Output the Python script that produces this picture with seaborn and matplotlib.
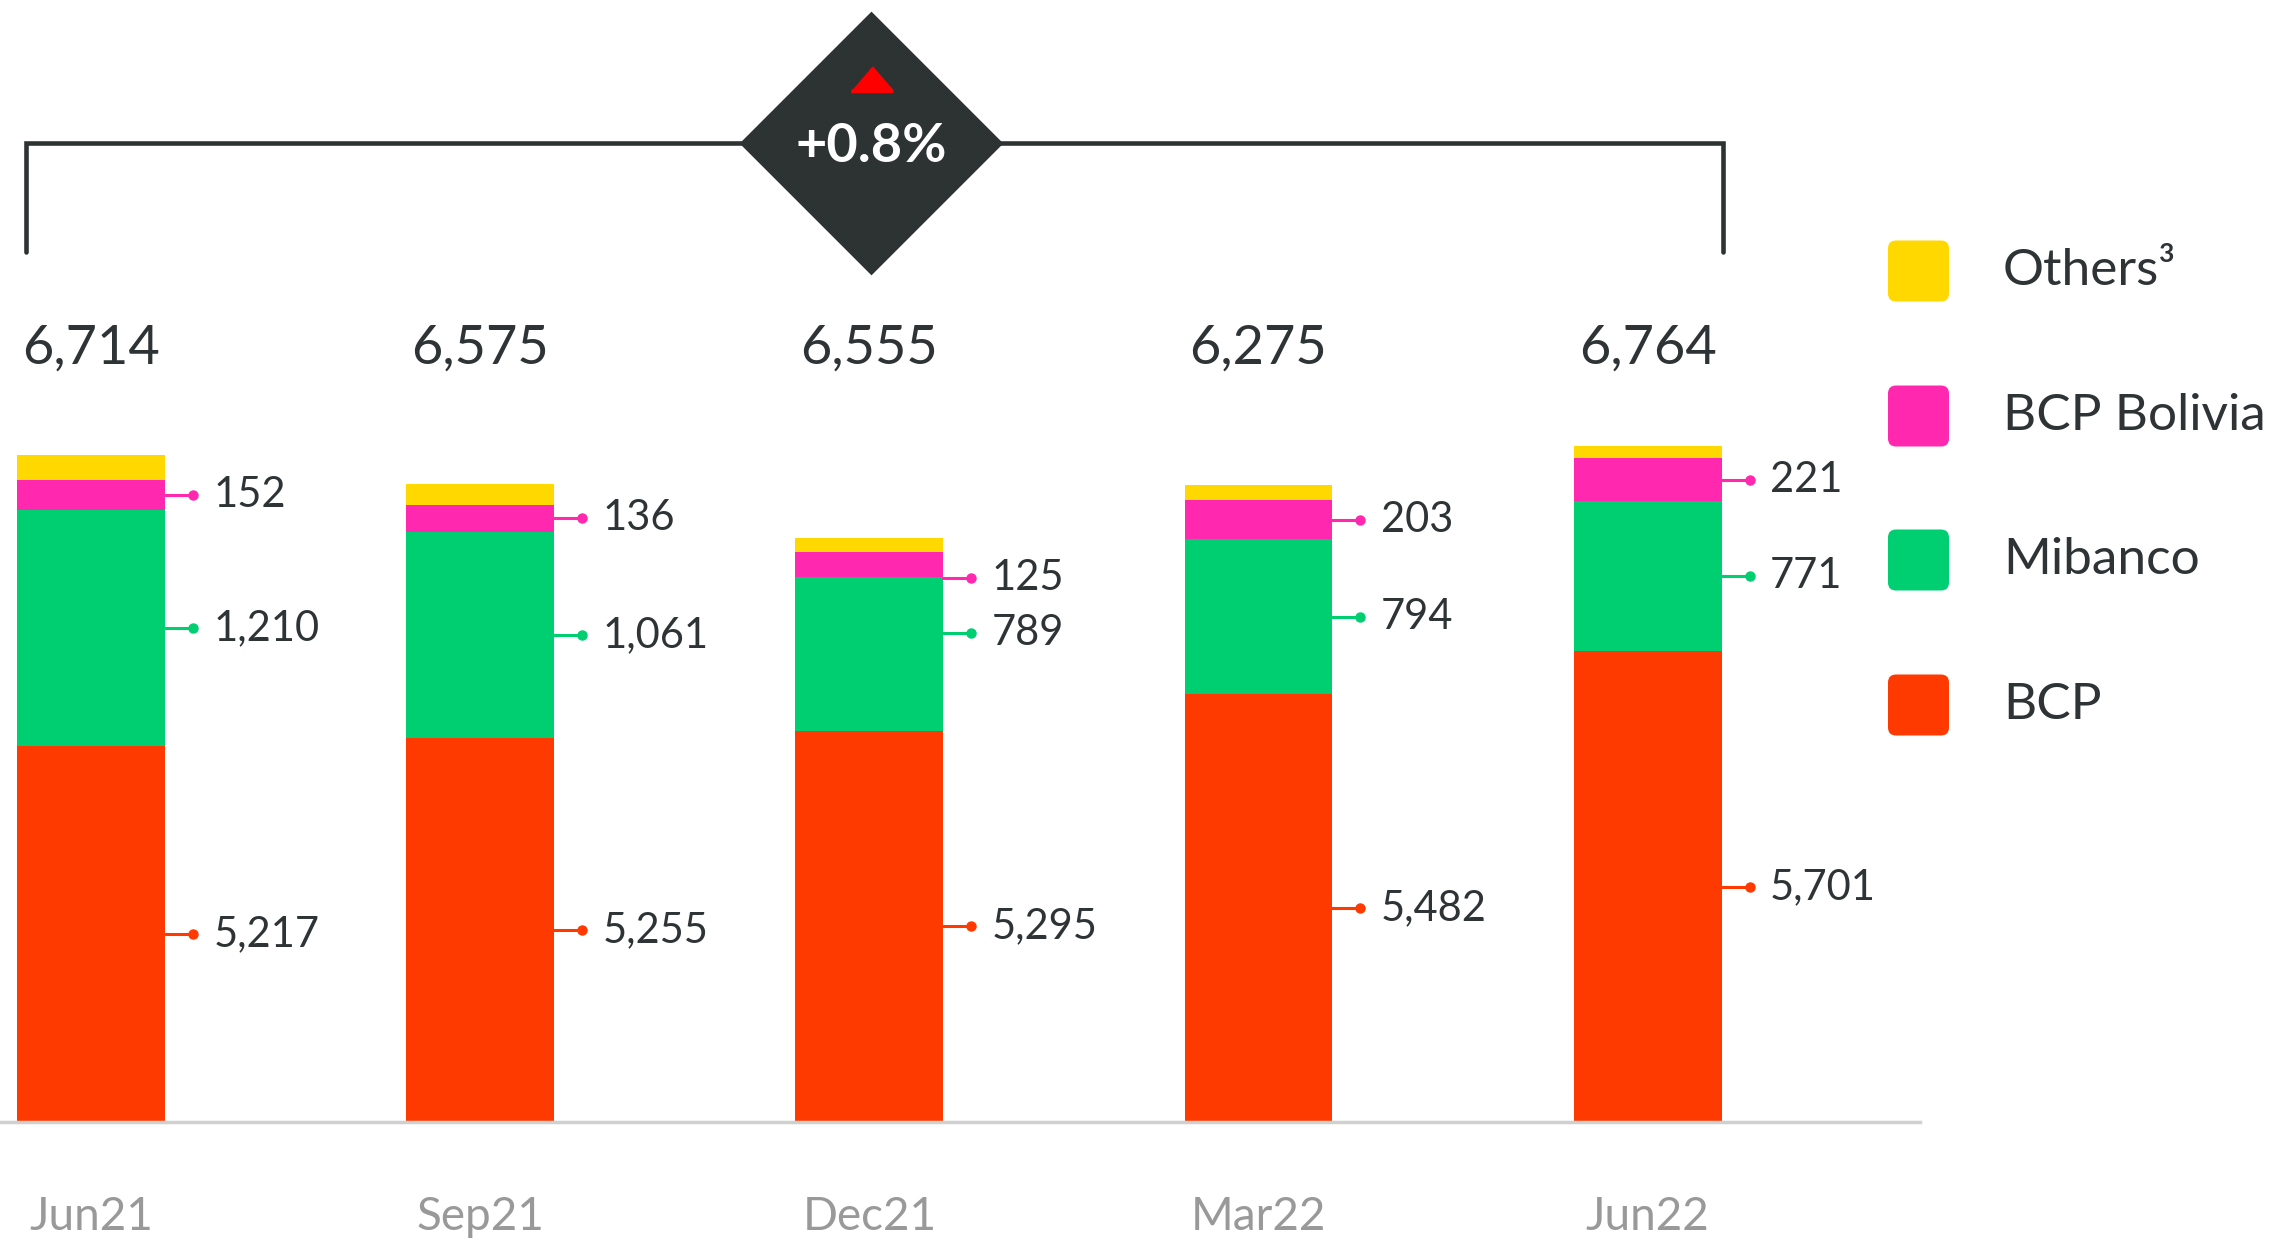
import numpy as np
import pandas as pd
import seaborn as sns
import matplotlib.pyplot as plt
from matplotlib.patches import FancyBboxPatch
from matplotlib.transforms import IdentityTransform, blended_transform_factory

sns.set_style("white")
plt.rcParams['font.family'] = ['Lato', 'DejaVu Sans']

#### DATA
periods = ["Jun21", "Sep21", "Dec21", "Mar22", "Jun22"]
bcp = [5217, 5255, 5295, 5482, 5701]
mibanco = [1210, 1061, 789, 794, 771]
bolivia = [152, 136, 125, 203, 221]
others = [128, 108, 72, 77, 62]   # read off bar heights, not labelled
totals = [6714, 6575, 6555, 6275, 6764]
change_label = "+0.8%"

series_names = ["BCP", "Mibanco", "BCP Bolivia", "Others³"]
colors = ["#FF3A00", "#00CF71", "#FF28AF", "#FFD800"]
dark = "#2E3436"

df = pd.DataFrame({"period": periods, "BCP": bcp, "Mibanco": mibanco,
                   "BCP Bolivia": bolivia, "Others³": others})
cum = df[series_names].cumsum(axis=1)

fig = plt.figure(figsize=(22.71, 12.42), dpi=100)
ax = fig.add_axes([0, 120 / 1242, 1920 / 2271, 1122 / 1242])

bar_w = 0.38
y_low = 3288
# stacked bars: draw the cumulative totals back to front
for name, col in reversed(list(zip(series_names, colors))):
    sns.barplot(x=df["period"], y=cum[name], color=col, saturation=1,
                width=bar_w, linewidth=0, ax=ax, zorder=2)

ax.set_xlim(-0.234, 4.70)
ax.set_ylim(y_low, y_low + 1122 / 0.195)
ax.set_yticks([])
ax.set_xlabel("")
ax.set_ylabel("")
for s in ["top", "right", "left"]:
    ax.spines[s].set_visible(False)
ax.spines["bottom"].set_color("#D0D0D0")
ax.spines["bottom"].set_linewidth(2.5)
ax.tick_params(axis="x", length=0, pad=53, labelsize=33, labelcolor="#999999")

# small manual shifts where the labels were moved in the original
nudge = {(2, "BCP Bolivia"): -67, (2, "Mibanco"): 108}

# segment labels with leader lines
for i in range(len(periods)):
    for name, col in zip(series_names[:3], colors[:3]):
        top = cum[name][i]
        bottom = max(top - df[name][i], y_low)
        y = (top + bottom) / 2 + nudge.get((i, name), 0)
        x0 = i + bar_w / 2
        ax.plot([x0, i + 0.262], [y, y], color=col, lw=2.2, zorder=3,
                clip_on=False)
        ax.plot(i + 0.262, y, "o", color=col, ms=6.5, zorder=3, clip_on=False)
        ax.text(i + 0.314, y, f"{df[name][i]:,}", fontsize=30, color=dark,
                va="center", ha="left")

# totals above bars
tr = blended_transform_factory(ax.transData, ax.transAxes)
for i, t in enumerate(totals):
    ax.text(i, 0.690, f"{t:,}", transform=tr, fontsize=39, color=dark,
            ha="center", va="center")

# bracket + diamond badge
ax.plot([-0.167, -0.167, 4.193, 4.193], [0.775, 0.8725, 0.8725, 0.775],
        transform=tr, color="#2D3233", lw=3.3, clip_on=False,
        solid_joinstyle="miter", zorder=4)
ax.plot(2.005, 0.8725, marker="D", ms=126, color="#2D3233", mec="#2D3233",
        mew=8, transform=tr, clip_on=False, zorder=5,
        solid_joinstyle="round")
ax.plot(2.005, 0.930, marker=[(-1, -0.58), (1, -0.58), (0, 0.58)], ms=29,
        color="#FF0000", mec="#FF0000", mew=3, transform=tr, clip_on=False,
        zorder=6)
ax.text(2.005, 0.869, change_label, transform=tr, color="white",
        fontsize=39, fontweight="bold", ha="center", va="center", zorder=7)

# legend drawn by hand
leg_y = [971, 826, 682, 537]
for name, col, yc in zip(reversed(series_names), reversed(colors), leg_y):
    fig.add_artist(FancyBboxPatch((1888, yc - 30.5), 61, 61,
                                  boxstyle="round,pad=0,rounding_size=8",
                                  transform=IdentityTransform(),
                                  fc=col, ec="none"))
    fig.text(2003 / 2271, yc / 1242, name, fontsize=37, color=dark,
             ha="left", va="center")

fig.savefig("out.png", dpi=100)
